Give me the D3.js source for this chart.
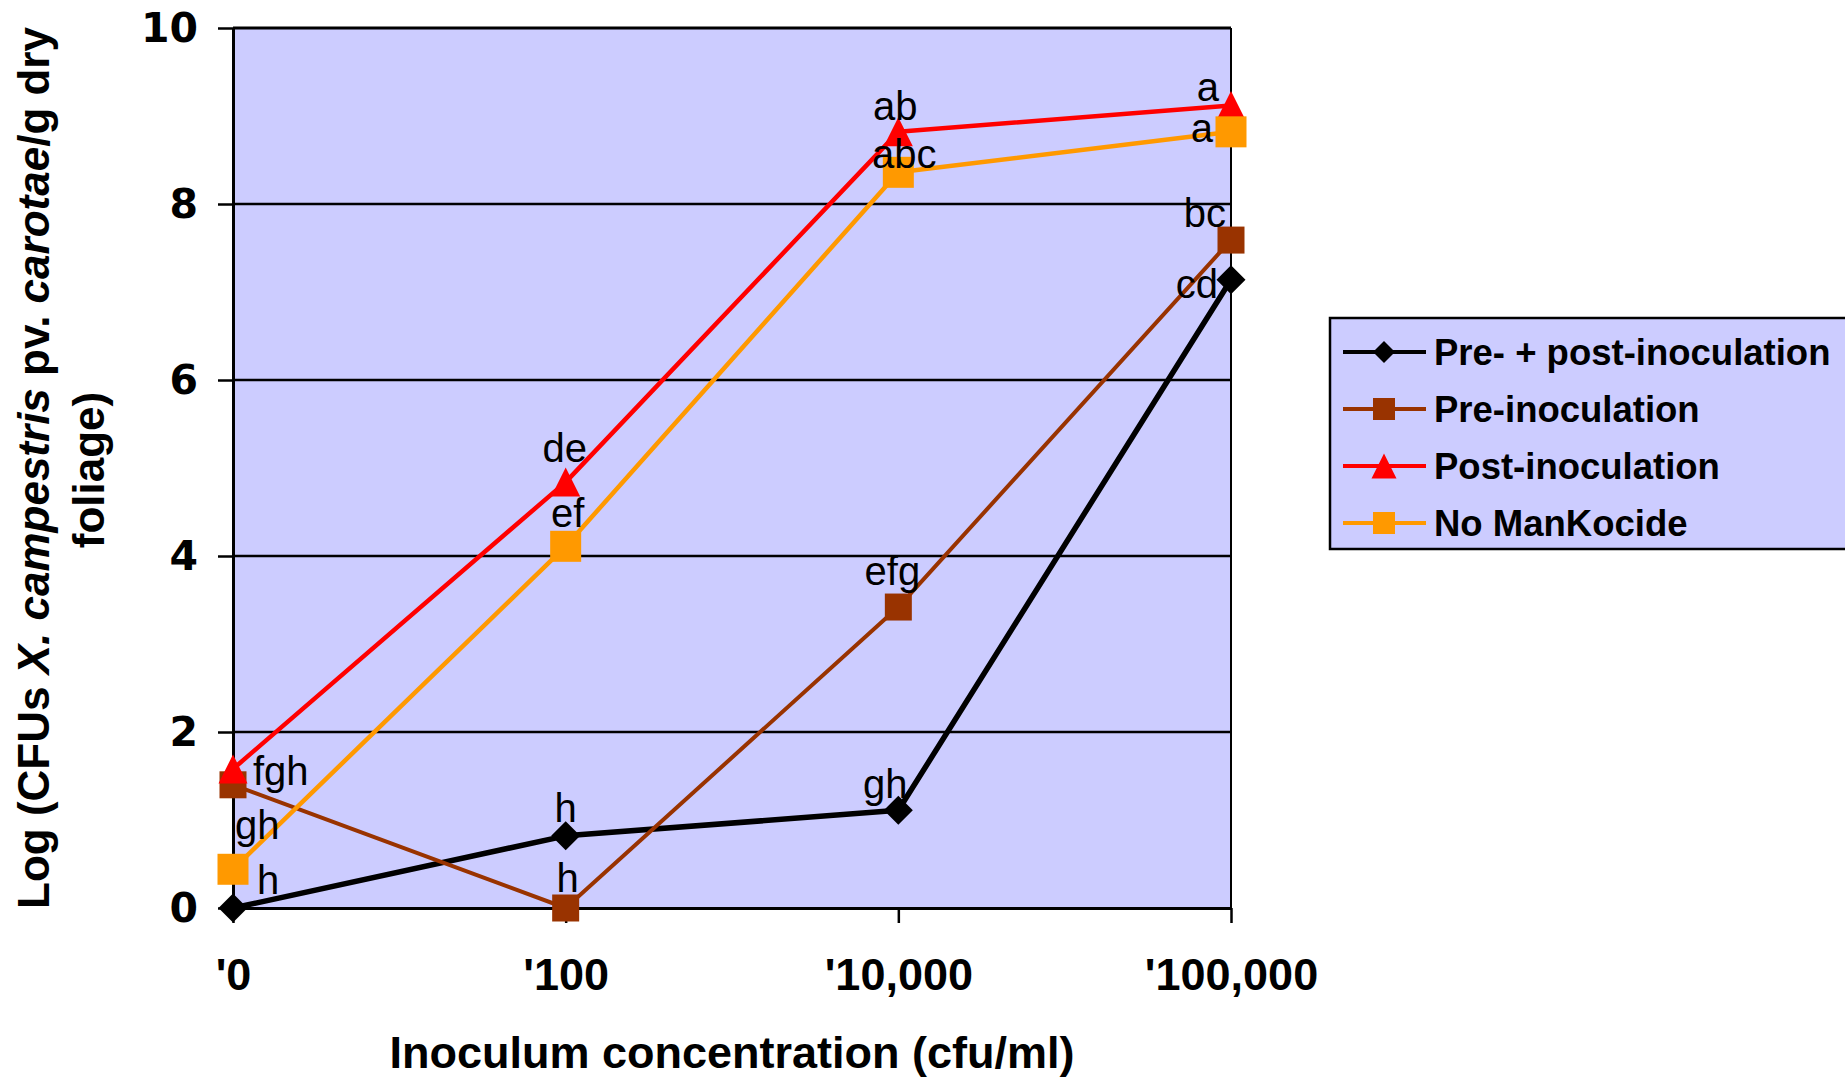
<!DOCTYPE html>
<html>
<head>
<meta charset="utf-8">
<script src="https://cdn.jsdelivr.net/npm/d3@7"></script>
<style>
  body { margin: 0; background: #fff; }
  svg text { font-family: "Liberation Sans", Arial, sans-serif; }
</style>
</head>
<body>
<div class="chart"></div>
<script>
// categories and values
var categories = ["'0", "'100", "'10,000", "'100,000"];
var seriesNames = ["Pre- + post-inoculation", "Pre-inoculation", "Post-inoculation", "No ManKocide"];
var prePost = [0, 0.82, 1.11, 7.14];
var preOnly = [1.40, 0, 3.42, 7.59];
var postOnly = [1.58, 4.84, 8.82, 9.12];
var noManKocide = [0.44, 4.11, 8.36, 8.82];
// letters of significance
var prePostLetters = ["h", "h", "gh", "cd"];
var preOnlyLetters = ["fgh", "h", "efg", "bc"];
var postOnlyLetters = ["", "de", "ab", "a"];
var noManKocideLetters = ["gh", "ef", "abc", "a"];
var yTicks = [0, 2, 4, 6, 8, 10];

var width = 1845, height = 1077;
var plot = {left: 233, right: 1231, top: 28, bottom: 908};

// marker shapes like excel
var diamond = {draw: function(ctx, size){
  var r = Math.sqrt(size / 2);
  ctx.moveTo(0, -r); ctx.lineTo(r, 0); ctx.lineTo(0, r); ctx.lineTo(-r, 0); ctx.closePath();
}};
var square = {draw: function(ctx, size){
  var h = Math.sqrt(size) / 2;
  ctx.rect(-h, -h, 2 * h, 2 * h);
}};
var triangle = {draw: function(ctx, size){
  var h = Math.sqrt(size) / 2;
  ctx.moveTo(0, -h); ctx.lineTo(h, h); ctx.lineTo(-h, h); ctx.closePath();
}};

var series = [
  {name: seriesNames[0], values: prePost, letters: prePostLetters, color: "#000000", width: 5.5, shape: diamond, size: 2 * 14.5 * 14.5, legendSize: 2 * 11 * 11,
   place: [[24, -14, "start"], [0, -14, "middle"], [-13, -12, "middle"], [-13, 18, "end"]]},
  {name: seriesNames[1], values: preOnly, letters: preOnlyLetters, color: "#993300", width: 4, shape: square, size: 27 * 27, legendSize: 22 * 22,
   place: [[20, 0, "start"], [2, -16, "middle"], [-6, -22, "middle"], [-5, -13, "end"]]},
  {name: seriesNames[2], values: postOnly, letters: postOnlyLetters, color: "#ff0000", width: 4.5, shape: triangle, size: 29 * 29, legendSize: 25 * 25,
   place: [[20, 0, "start"], [-1, -20, "middle"], [-3, -12, "middle"], [-12, -4, "end"]]},
  {name: seriesNames[3], values: noManKocide, letters: noManKocideLetters, color: "#ff9900", width: 4.5, shape: square, size: 31 * 31, legendSize: 22 * 22,
   place: [[2, -30, "start"], [2, -19, "middle"], [6, -4, "middle"], [-18, 10, "end"]]}
];

var x = d3.scalePoint().domain(categories).range([plot.left, plot.right]).padding(0);
var y = d3.scaleLinear().domain([0, 10]).range([plot.bottom, plot.top]);

var svg = d3.select(".chart").append("svg")
  .attr("width", width)
  .attr("height", height);

svg.append("rect").attr("width", width).attr("height", height).attr("fill", "#fff");

// fond du graphique
svg.append("rect")
  .attr("x", plot.left).attr("y", plot.top)
  .attr("width", plot.right - plot.left).attr("height", plot.bottom - plot.top)
  .attr("fill", "#ccccff");

// grid lines
svg.append("g").selectAll("line")
  .data(yTicks.filter(function(d){ return d > 0; }))
  .enter().append("line")
  .attr("x1", plot.left).attr("x2", plot.right)
  .attr("y1", function(d){ return y(d); }).attr("y2", function(d){ return y(d); })
  .attr("stroke", "#000")
  .attr("stroke-width", function(d){ return d == 10 ? 3 : 2.5; });

// right border
svg.append("line")
  .attr("x1", plot.right).attr("x2", plot.right)
  .attr("y1", plot.top).attr("y2", plot.bottom)
  .attr("stroke", "#000").attr("stroke-width", 2);

// y axis
var yAxis = svg.append("g")
  .attr("transform", "translate(" + plot.left + ",0)")
  .call(d3.axisLeft(y).tickValues(yTicks).tickSize(15).tickPadding(20).tickSizeOuter(0));
yAxis.select(".domain").attr("stroke", "#000").attr("stroke-width", 3);
yAxis.selectAll(".tick line").attr("stroke", "#000").attr("stroke-width", 2.5);
yAxis.selectAll(".tick text")
  .attr("fill", "#000")
  .style("font-family", "'DejaVu Sans', sans-serif")
  .style("font-weight", "bold")
  .style("font-size", "41px");

// x axis
var xAxis = svg.append("g")
  .attr("transform", "translate(0," + plot.bottom + ")")
  .call(d3.axisBottom(x).tickSize(15).tickPadding(0).tickSizeOuter(0));
xAxis.select(".domain").attr("stroke", "#000").attr("stroke-width", 3);
xAxis.selectAll(".tick line").attr("stroke", "#000").attr("stroke-width", 2.5);
xAxis.selectAll(".tick text")
  .attr("fill", "#000")
  .attr("dy", null)
  .attr("y", 82)
  .style("font-weight", "bold")
  .style("font-size", "45px");

// x title
svg.append("text")
  .attr("x", (plot.left + plot.right) / 2)
  .attr("y", 1068)
  .attr("text-anchor", "middle")
  .style("font-weight", "bold")
  .style("font-size", "45px")
  .text("Inoculum concentration (cfu/ml)");

// y title, two lines
var yTitle = svg.append("text")
  .attr("transform", "translate(49," + (plot.top + plot.bottom) / 2 + ") rotate(-90)")
  .attr("text-anchor", "middle")
  .style("font-weight", "bold")
  .style("font-size", "44px");
yTitle.append("tspan").text("Log (CFUs ");
yTitle.append("tspan").style("font-style", "italic").text("X. campestris");
yTitle.append("tspan").text(" pv. ");
yTitle.append("tspan").style("font-style", "italic").text("carotae");
yTitle.append("tspan").text("/g dry");
svg.append("text")
  .attr("transform", "translate(104," + ((plot.top + plot.bottom) / 2 + 2) + ") rotate(-90)")
  .attr("text-anchor", "middle")
  .style("font-weight", "bold")
  .style("font-size", "44px")
  .text("foliage)");

// lines + markers
var line = d3.line()
  .x(function(d, i){ return x(categories[i]); })
  .y(function(d){ return y(d); });

series.forEach(function(s){
  var g = svg.append("g").attr("class", "serie");
  g.append("path")
    .attr("d", line(s.values))
    .attr("fill", "none")
    .attr("stroke", s.color)
    .attr("stroke-width", s.width)
    .attr("stroke-linejoin", "round");
  g.selectAll(".marker")
    .data(s.values)
    .enter().append("path")
    .attr("class", "marker")
    .attr("transform", function(d, i){ return "translate(" + x(categories[i]) + "," + y(d) + ")"; })
    .attr("d", d3.symbol().type(s.shape).size(s.size))
    .attr("fill", s.color);
});

// labels on top
series.forEach(function(s){
  svg.append("g").selectAll("text")
    .data(s.values)
    .enter().append("text")
    .attr("x", function(d, i){ return x(categories[i]) + s.place[i][0]; })
    .attr("y", function(d, i){ return y(d) + s.place[i][1]; })
    .attr("text-anchor", function(d, i){ return s.place[i][2]; })
    .style("font-size", "40px")
    .attr("fill", "#000")
    .text(function(d, i){ return s.letters[i]; });
});

// legend
var legend = svg.append("g").attr("transform", "translate(1330,318)");
legend.append("rect")
  .attr("width", 520).attr("height", 231)
  .attr("fill", "#ccccff")
  .attr("stroke", "#000").attr("stroke-width", 2.5);
var rows = legend.selectAll(".row")
  .data(series)
  .enter().append("g")
  .attr("class", "row")
  .attr("transform", function(d, i){ return "translate(0," + (34 + i * 57) + ")"; });
rows.append("line")
  .attr("x1", 13).attr("x2", 96)
  .attr("stroke", function(d){ return d.color; })
  .attr("stroke-width", 4);
rows.append("path")
  .attr("transform", "translate(54,0)")
  .attr("d", function(d){ return d3.symbol().type(d.shape).size(d.legendSize)(); })
  .attr("fill", function(d){ return d.color; });
rows.append("text")
  .attr("x", 104)
  .attr("dy", "0.36em")
  .style("font-weight", "bold")
  .style("font-size", "36.5px")
  .text(function(d){ return d.name; });
</script>
</body>
</html>
